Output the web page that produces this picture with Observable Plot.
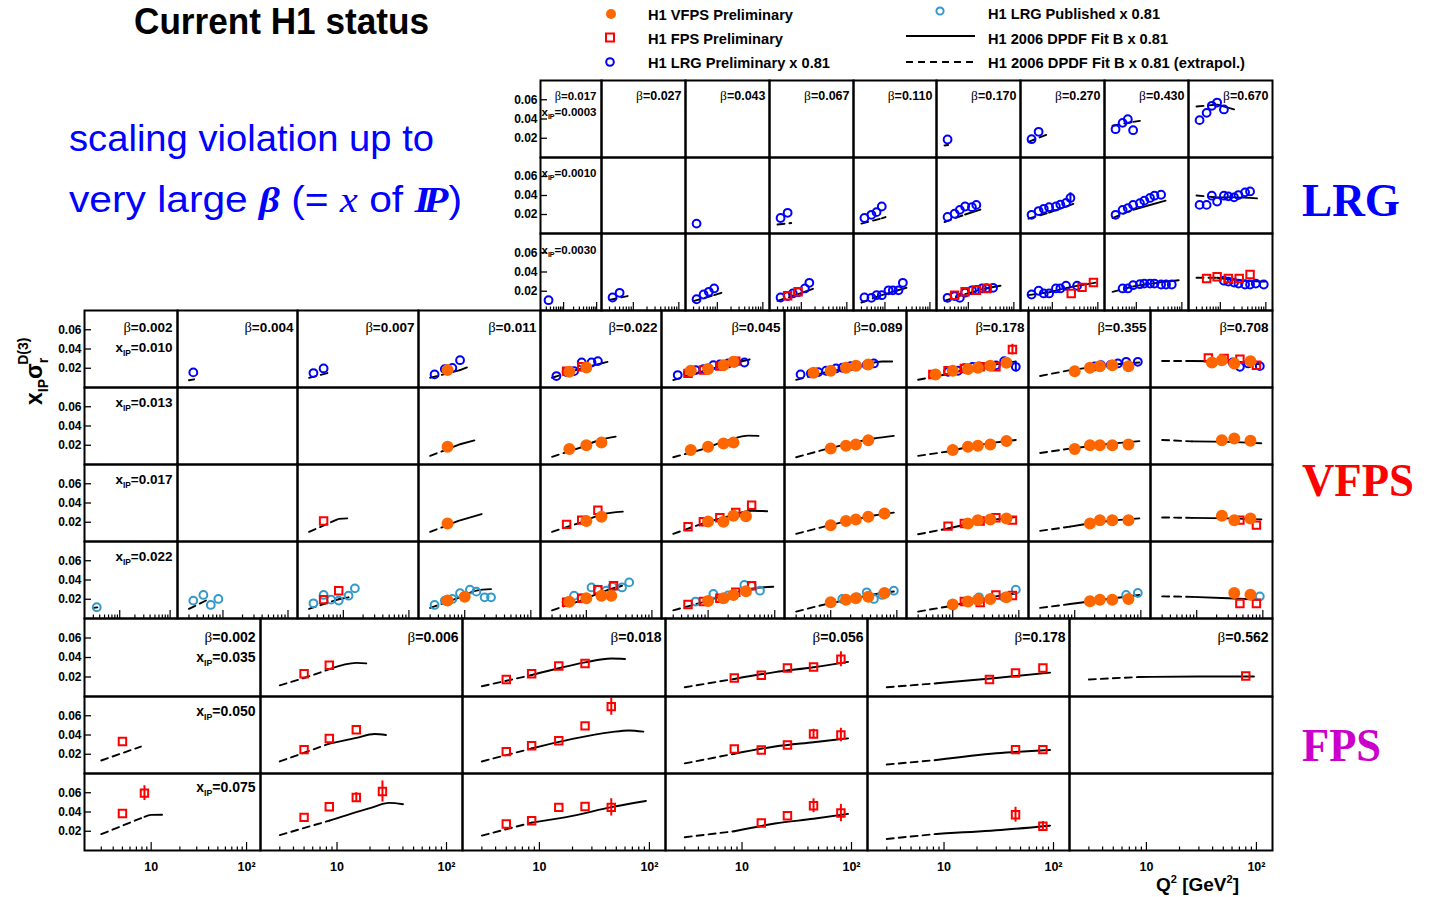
<!DOCTYPE html>
<html>
<head>
<meta charset="utf-8">
<script src="https://cdn.jsdelivr.net/npm/d3@7"></script>
<script src="https://cdn.jsdelivr.net/npm/@observablehq/plot@0.6"></script>
<style>
html,body{margin:0;padding:0;background:#fff;}
#chart{position:relative;width:1434px;height:897px;overflow:hidden;background:#fff;}
#chart svg{position:absolute;}
</style>
</head>
<body>
<div id="chart"></div>
<script>
// ================= DATA =================
// panel labels
const lrgBetas  = ["0.017","0.027","0.043","0.067","0.110","0.170","0.270","0.430","0.670"];
const lrgXips   = ["0.0003","0.0010","0.0030"];
const vfpsBetas = ["0.002","0.004","0.007","0.011","0.022","0.045","0.089","0.178","0.355","0.708"];
const vfpsXips  = ["0.010","0.013","0.017","0.022"];
const fpsBetas  = ["0.002","0.006","0.018","0.056","0.178","0.562"];
const fpsXips   = ["0.035","0.050","0.075"];
const yTickValues = [0.02, 0.04, 0.06];
const xMajorTicks = [10, 100];
const xMinorTicks = [3,4,5,6,7,8,9,20,30,40,50,60,70,80,90];
const xTickLabels = ["10", "10²"];
const fitMinQ2 = 8.5; // below this the fit is an extrapolation (dashed)

// points: [row, col, Q2, x_IP*sigma_r]
// ---- LRG block ----
const lrgBlockLRG = [
[0,5,3.5,0.0187],
[0,6,3.5,0.0190],[0,6,5,0.0267],
[0,7,3.5,0.0294],[0,7,5,0.0360],[0,7,6.5,0.0398],[0,7,8.5,0.0284],
[0,8,3.5,0.0388],[0,8,5,0.0464],[0,8,6.5,0.0537],[0,8,8.5,0.0571],[0,8,12,0.0499],
[1,2,3.5,0.0104],
[1,3,3.5,0.0163],[1,3,5,0.0218],
[1,4,3.5,0.0163],[1,4,5,0.0197],[1,4,6.5,0.0225],[1,4,8.5,0.0284],
[1,5,3.5,0.0174],[1,5,5,0.0208],[1,5,6.5,0.0249],[1,5,8.5,0.0284],[1,5,12,0.0277],[1,5,15,0.0301],
[1,6,3.5,0.0197],[1,6,5,0.0236],[1,6,6.5,0.0260],[1,6,8.5,0.0277],[1,6,12,0.0284],[1,6,15,0.0304],[1,6,20,0.0322],[1,6,25,0.0374],
[1,7,3.5,0.0197],[1,7,5,0.0249],[1,7,6.5,0.0267],[1,7,8.5,0.0301],[1,7,12,0.0319],[1,7,15,0.0346],[1,7,20,0.0374],[1,7,25,0.0398],[1,7,35,0.0408],
[1,8,3.5,0.0301],[1,8,5,0.0301],[1,8,6.5,0.0398],[1,8,8.5,0.0336],[1,8,12,0.0398],[1,8,15,0.0391],[1,8,20,0.0381],[1,8,25,0.0405],[1,8,35,0.0433],[1,8,45,0.0443],
[2,0,3.5,0.0107],
[2,1,3.5,0.0135],[2,1,5,0.0184],
[2,2,3.5,0.0117],[2,2,5,0.0166],[2,2,6.5,0.0194],[2,2,8.5,0.0229],
[2,3,3.5,0.0135],[2,3,5,0.0150],[2,3,6.5,0.0177],[2,3,8.5,0.0190],[2,3,12,0.0229],[2,3,15,0.0288],
[2,4,3.5,0.0135],[2,4,5,0.0132],[2,4,6.5,0.0159],[2,4,8.5,0.0159],[2,4,12,0.0210],[2,4,15,0.0210],[2,4,20,0.0210],[2,4,25,0.0288],
[2,5,3.5,0.0132],[2,5,5,0.0150],[2,5,6.5,0.0132],[2,5,8.5,0.0185],[2,5,12,0.0210],[2,5,15,0.0215],[2,5,20,0.0229],[2,5,25,0.0232],[2,5,35,0.0236],
[2,6,3.5,0.0166],[2,6,5,0.0205],[2,6,6.5,0.0177],[2,6,8.5,0.0177],[2,6,12,0.0229],[2,6,15,0.0229],[2,6,20,0.0257],[2,6,35,0.0257],
[2,7,5,0.0229],[2,7,6.5,0.0229],[2,7,8.5,0.0263],[2,7,12,0.0273],[2,7,15,0.0280],[2,7,20,0.0280],[2,7,25,0.0280],[2,7,35,0.0270],[2,7,45,0.0270],[2,7,60,0.0270],
[2,8,12,0.0310],[2,8,15,0.0300],[2,8,20,0.0290],[2,8,25,0.0280],[2,8,35,0.0270],[2,8,45,0.0270],[2,8,60,0.0280],[2,8,90,0.0270]
];
const lrgBlockFPS = [
[2,3,5,0.0153],[2,3,8.5,0.0194],
[2,5,5,0.0159],[2,5,8.5,0.0194],[2,5,15,0.0210],[2,5,26,0.0229],
[2,6,26,0.0177],[2,6,45,0.0240],[2,6,80,0.0291],
[2,8,5,0.0332],[2,8,8.5,0.0350],[2,8,15,0.0332],[2,8,26,0.0332],[2,8,45,0.0374]
];
// fit curves: [row, col, [[Q2, value], ...]]
const lrgBlockFits = [
[0,5,[[3,0.0125],[3.6,0.0130]]],
[0,6,[[3,0.0163],[7.7,0.0239]]],
[0,7,[[3,0.0330],[8.5,0.0370],[12,0.0380]]],
[0,8,[[3,0.0530],[8.5,0.0550],[20,0.0500]]],
[1,3,[[3,0.0095],[6,0.0110]]],
[1,4,[[3,0.0104],[8.5,0.0160],[10.3,0.0173]]],
[1,5,[[3,0.0121],[8.5,0.0200],[18.4,0.0252]]],
[1,6,[[3,0.0156],[8.5,0.0220],[29,0.0312]]],
[1,7,[[3,0.0163],[8.5,0.0250],[44,0.0346]]],
[1,8,[[3,0.0400],[8.5,0.0380],[20,0.0380],[64,0.0370]]],
[2,1,[[3,0.0110],[7.5,0.0150]]],
[2,2,[[3,0.0097],[8.5,0.0160],[12.3,0.0184]]],
[2,3,[[3,0.0100],[8.5,0.0170],[18,0.0225]]],
[2,4,[[3,0.0083],[8.5,0.0160],[30,0.0236]]],
[2,5,[[3,0.0100],[8.5,0.0170],[20,0.0220],[51,0.0257]]],
[2,6,[[3,0.0160],[8.5,0.0190],[30,0.0250],[90,0.0290]]],
[2,7,[[3,0.0194],[8.5,0.0250],[30,0.0290],[85,0.0314]]],
[2,8,[[3,0.0340],[8.5,0.0340],[20,0.0320],[95,0.0300]]]
];
// visible error bars: [row, col, Q2, error]
const lrgBlockErrLRG = [[1,6,25,0.0055]];

// ---- VFPS block ----
const vfpsBlockVFPS = [
[0,3,5.5,0.0181],
[0,4,5.5,0.0163],[0,4,10,0.0209],
[0,5,5.5,0.0174],[0,5,10,0.0191],[0,5,17,0.0232],[0,5,24,0.0267],
[0,6,5.5,0.0153],[0,6,10,0.0174],[0,6,17,0.0205],[0,6,24,0.0225],[0,6,37,0.0240],
[0,7,5.5,0.0136],[0,7,10,0.0174],[0,7,17,0.0191],[0,7,24,0.0205],[0,7,37,0.0225],[0,7,65,0.0256],
[0,8,10,0.0170],[0,8,17,0.0205],[0,8,24,0.0222],[0,8,37,0.0232],[0,8,65,0.0222],
[0,9,17,0.0260],[0,9,24,0.0284],[0,9,37,0.0250],[0,9,65,0.0274],
[1,3,5.5,0.0184],
[1,4,5.5,0.0160],[1,4,10,0.0201],[1,4,17,0.0229],
[1,5,5.5,0.0150],[1,5,10,0.0184],[1,5,17,0.0219],[1,5,24,0.0229],
[1,6,10,0.0167],[1,6,17,0.0194],[1,6,24,0.0208],[1,6,37,0.0253],
[1,7,10,0.0150],[1,7,17,0.0184],[1,7,24,0.0194],[1,7,37,0.0208],[1,7,65,0.0243],
[1,8,10,0.0160],[1,8,17,0.0201],[1,8,24,0.0201],[1,8,37,0.0201],[1,8,65,0.0208],
[1,9,24,0.0253],[1,9,37,0.0270],[1,9,65,0.0246],
[2,3,5.5,0.0188],
[2,4,10,0.0212],[2,4,17,0.0256],
[2,5,10,0.0208],[2,5,17,0.0205],[2,5,24,0.0267],[2,5,37,0.0263],
[2,6,10,0.0170],[2,6,17,0.0212],[2,6,24,0.0229],[2,6,37,0.0256],[2,6,65,0.0291],
[2,7,17,0.0188],[2,7,24,0.0222],[2,7,37,0.0229],[2,7,65,0.0239],
[2,8,17,0.0188],[2,8,24,0.0222],[2,8,37,0.0222],[2,8,65,0.0222],
[2,9,24,0.0267],[2,9,37,0.0222],[2,9,65,0.0239],
[3,3,5.5,0.0186],[3,3,10,0.0227],
[3,4,5.5,0.0175],[3,4,10,0.0210],[3,4,17,0.0237],[3,4,24,0.0237],
[3,5,10,0.0183],[3,5,17,0.0210],[3,5,24,0.0244],[3,5,37,0.0282],
[3,6,10,0.0169],[3,6,17,0.0196],[3,6,24,0.0210],[3,6,37,0.0227],[3,6,65,0.0265],
[3,7,10,0.0145],[3,7,17,0.0176],[3,7,24,0.0196],[3,7,37,0.0203],[3,7,65,0.0220],
[3,8,17,0.0179],[3,8,24,0.0196],[3,8,37,0.0196],[3,8,65,0.0203],
[3,9,37,0.0265],[3,9,65,0.0248]
];
const vfpsBlockFPS = [
[0,4,5,0.0170],[0,4,8.5,0.0215],
[0,5,5,0.0147],[0,5,8.5,0.0181],[0,5,15,0.0222],[0,5,26,0.0274],
[0,7,5,0.0136],[0,7,8.5,0.0174],[0,7,15,0.0198],[0,7,26,0.0215],[0,7,45,0.0215],[0,7,80,0.0394],
[0,9,15,0.0308],[0,9,26,0.0301],[0,9,45,0.0294],[0,9,80,0.0232],
[2,2,5,0.0212],
[2,4,5,0.0178],[2,4,8.5,0.0222],[2,4,15,0.0325],
[2,5,5,0.0153],[2,5,8.5,0.0205],[2,5,15,0.0246],[2,5,26,0.0301],[2,5,45,0.0377],
[2,7,8.5,0.0160],[2,7,15,0.0188],[2,7,26,0.0212],[2,7,45,0.0246],[2,7,80,0.0222],
[2,9,45,0.0222],[2,9,80,0.0170],
[3,2,5,0.0196],[3,2,8.5,0.0289],
[3,4,5,0.0168],[3,4,8.5,0.0210],[3,4,15,0.0299],[3,4,26,0.0341],
[3,5,5,0.0145],[3,5,8.5,0.0176],[3,5,15,0.0210],[3,5,26,0.0272],[3,5,45,0.0341],
[3,7,15,0.0176],[3,7,26,0.0165],[3,7,45,0.0245],[3,7,80,0.0238],
[3,9,45,0.0155],[3,9,80,0.0155]
];
const vfpsBlockLRG = [
[0,1,3.5,0.0157],
[0,2,3.5,0.0150],[0,2,5,0.0198],
[0,3,3.5,0.0136],[0,3,5,0.0191],[0,3,6.5,0.0204],[0,3,8.5,0.0284],
[0,4,3.5,0.0119],[0,4,5,0.0160],[0,4,6.5,0.0170],[0,4,8.5,0.0260],[0,4,12,0.0260],[0,4,15,0.0274],
[0,5,3.5,0.0129],[0,5,5,0.0150],[0,5,6.5,0.0181],[0,5,8.5,0.0190],[0,5,12,0.0232],[0,5,15,0.0240],[0,5,20,0.0250],[0,5,25,0.0260],[0,5,35,0.0260],
[0,6,3.5,0.0136],[0,6,5,0.0147],[0,6,6.5,0.0160],[0,6,8.5,0.0174],[0,6,12,0.0198],[0,6,15,0.0205],[0,6,20,0.0222],[0,6,25,0.0225],[0,6,35,0.0235],[0,6,45,0.0250],
[0,7,8.5,0.0163],[0,7,12,0.0174],[0,7,15,0.0200],[0,7,20,0.0215],[0,7,25,0.0220],[0,7,35,0.0225],[0,7,45,0.0230],[0,7,60,0.0274],[0,7,90,0.0215],
[0,8,20,0.0220],[0,8,25,0.0232],[0,8,35,0.0235],[0,8,45,0.0250],[0,8,60,0.0267],[0,8,90,0.0267],
[0,9,35,0.0260],[0,9,45,0.0215],[0,9,60,0.0250],[0,9,90,0.0222]
];
const vfpsBlockLRGPub = [
[3,0,3.5,0.0117],
[3,1,3.5,0.0186],[3,1,5,0.0245],[3,1,6.5,0.0141],[3,1,8.5,0.0203],
[3,2,3.5,0.0158],[3,2,5,0.0245],[3,2,6.5,0.0196],[3,2,8.5,0.0186],[3,2,12,0.0237],[3,2,15,0.0313],
[3,3,3.5,0.0141],[3,3,5,0.0186],[3,3,6.5,0.0203],[3,3,8.5,0.0263],[3,3,12,0.0299],[3,3,15,0.0279],[3,3,20,0.0220],[3,3,25,0.0220],
[3,4,5,0.0170],[3,4,6.5,0.0237],[3,4,8.5,0.0210],[3,4,12,0.0323],[3,4,15,0.0300],[3,4,20,0.0289],[3,4,25,0.0330],[3,4,35,0.0323],[3,4,45,0.0375],
[3,5,6.5,0.0176],[3,5,12,0.0255],[3,5,20,0.0240],[3,5,35,0.0348],[3,5,45,0.0340],[3,5,60,0.0289],
[3,6,15,0.0203],[3,6,25,0.0220],[3,6,35,0.0272],[3,6,45,0.0203],[3,6,60,0.0245],[3,6,90,0.0289],
[3,7,25,0.0220],[3,7,60,0.0220],[3,7,90,0.0300],
[3,8,60,0.0245],[3,8,90,0.0265],
[3,9,90,0.0230]
];
const vfpsBlockFits = [
[0,1,[[3,0.0075],[3.6,0.0085]]],
[0,2,[[3,0.0100],[6.5,0.0160]]],
[0,3,[[3,0.0101],[8.5,0.0180],[10.8,0.0209]]],
[0,4,[[3,0.0101],[8.5,0.0200],[21,0.0266]]],
[0,5,[[3,0.0077],[8.5,0.0170],[20,0.0240],[42,0.0291]]],
[0,6,[[3,0.0080],[8.5,0.0160],[30,0.0230],[60,0.0270],[85,0.0270]]],
[0,7,[[3,0.0080],[8.5,0.0140],[20,0.0200],[45,0.0240],[90,0.0270]]],
[0,8,[[3,0.0120],[8.5,0.0180],[30,0.0230],[95,0.0260]]],
[0,9,[[3,0.0275],[8.5,0.0275],[30,0.0270],[90,0.0240]]],
[1,3,[[3,0.0090],[8.5,0.0210],[14,0.0250]]],
[1,4,[[3,0.0080],[8.5,0.0180],[17,0.0260],[28,0.0290]]],
[1,5,[[3,0.0075],[8.5,0.0160],[20,0.0250],[40,0.0300],[57,0.0297]]],
[1,6,[[3,0.0075],[8.5,0.0160],[20,0.0220],[45,0.0270],[90,0.0297]]],
[1,7,[[3,0.0090],[8.5,0.0135],[20,0.0190],[45,0.0230],[90,0.0255]]],
[1,8,[[3,0.0120],[8.5,0.0165],[30,0.0210],[95,0.0243]]],
[1,9,[[3,0.0255],[8.5,0.0240],[30,0.0235],[95,0.0220]]],
[2,2,[[3,0.0100],[8.5,0.0235],[11.5,0.0240]]],
[2,3,[[3,0.0100],[8.5,0.0220],[18,0.0285]]],
[2,4,[[3,0.0100],[8.5,0.0200],[17,0.0280],[36,0.0310]]],
[2,5,[[3,0.0080],[8.5,0.0190],[20,0.0260],[45,0.0320],[77,0.0315]]],
[2,6,[[3,0.0080],[8.5,0.0160],[20,0.0220],[45,0.0270],[90,0.0300]]],
[2,7,[[3,0.0075],[8.5,0.0135],[20,0.0190],[45,0.0230],[90,0.0255]]],
[2,8,[[3,0.0110],[8.5,0.0155],[30,0.0210],[95,0.0240]]],
[2,9,[[3,0.0250],[8.5,0.0245],[30,0.0240],[95,0.0230]]],
[3,0,[[3,0.0110],[3.6,0.0115]]],
[3,1,[[3,0.0100],[5.8,0.0195]]],
[3,2,[[3,0.0100],[8.5,0.0200],[12,0.0220]]],
[3,3,[[3,0.0110],[8.5,0.0220],[15,0.0290],[25,0.0305]]],
[3,4,[[3,0.0085],[8.5,0.0190],[20,0.0290],[35,0.0340]]],
[3,5,[[3,0.0085],[8.5,0.0170],[20,0.0250],[45,0.0310],[95,0.0330]]],
[3,6,[[3,0.0072],[8.5,0.0150],[20,0.0200],[45,0.0250],[90,0.0280]]],
[3,7,[[3,0.0072],[8.5,0.0125],[20,0.0180],[45,0.0230],[90,0.0260]]],
[3,8,[[3,0.0110],[8.5,0.0150],[30,0.0200],[95,0.0245]]],
[3,9,[[3,0.0230],[8.5,0.0225],[30,0.0210],[95,0.0195]]]
];
const vfpsBlockErrFPS = [[0,7,80,0.0055]];
const vfpsBlockErrLRG = [[0,7,90,0.0050]];

// ---- FPS block ----
const fpsBlockFPS = [
[0,1,5,0.0234],[0,1,8.5,0.0320],
[0,2,5,0.0175],[0,2,8.5,0.0234],[0,2,15,0.0313],[0,2,26,0.0338],
[0,3,8.5,0.0189],[0,3,15,0.0217],[0,3,26,0.0292],[0,3,45,0.0303],[0,3,80,0.0382],
[0,4,26,0.0175],[0,4,45,0.0241],[0,4,80,0.0292],
[0,5,80,0.0210],
[1,0,5,0.0333],
[1,1,5,0.0248],[1,1,8.5,0.0364],[1,1,15,0.0454],
[1,2,5,0.0227],[1,2,8.5,0.0289],[1,2,15,0.0341],[1,2,26,0.0495],[1,2,45,0.0695],
[1,3,8.5,0.0255],[1,3,15,0.0245],[1,3,26,0.0296],[1,3,45,0.0410],[1,3,80,0.0400],
[1,4,45,0.0248],[1,4,80,0.0248],
[2,0,5,0.0385],[2,0,8.5,0.0596],
[2,1,5,0.0344],[2,1,8.5,0.0454],[2,1,15,0.0551],[2,1,26,0.0613],
[2,2,5,0.0275],[2,2,8.5,0.0310],[2,2,15,0.0448],[2,2,26,0.0458],[2,2,45,0.0448],
[2,3,15,0.0286],[2,3,26,0.0361],[2,3,45,0.0465],[2,3,80,0.0389],
[2,4,45,0.0372],[2,4,80,0.0251]
];
const fpsBlockFits = [
[0,1,[[3,0.0115],[5,0.0190],[8.5,0.0280],[15,0.0345],[18.5,0.0340]]],
[0,2,[[3,0.0105],[8.5,0.0220],[15,0.0290],[26,0.0350],[45,0.0390],[60,0.0385]]],
[0,3,[[3,0.0095],[8.5,0.0180],[20,0.0250],[45,0.0300],[93,0.0355]]],
[0,4,[[3,0.0095],[8.5,0.0135],[30,0.0190],[93,0.0245]]],
[0,5,[[3,0.0175],[8.5,0.0200],[30,0.0205],[95,0.0205]]],
[1,0,[[3,0.0135],[7.8,0.0280]]],
[1,1,[[3,0.0125],[8.5,0.0310],[15,0.0370],[22,0.0410],[28,0.0400]]],
[1,2,[[3,0.0125],[8.5,0.0260],[20,0.0360],[45,0.0430],[65,0.0447],[88,0.0435]]],
[1,3,[[3,0.0105],[8.5,0.0205],[20,0.0280],[45,0.0325],[93,0.0365]]],
[1,4,[[3,0.0093],[8.5,0.0140],[30,0.0210],[93,0.0244]]],
[2,0,[[3,0.0170],[8.5,0.0350],[10,0.0370],[13,0.0372]]],
[2,1,[[3,0.0160],[8.5,0.0310],[20,0.0440],[30,0.0495],[40,0.0480]]],
[2,2,[[3,0.0155],[8.5,0.0290],[20,0.0360],[45,0.0450],[93,0.0515]]],
[2,3,[[3,0.0138],[8.5,0.0200],[20,0.0280],[45,0.0330],[93,0.0380]]],
[2,4,[[3,0.0120],[8.5,0.0172],[30,0.0210],[93,0.0258]]]
];
const fpsBlockErrFPS = [
[1,2,45,0.0090],[2,2,45,0.0090],[0,3,80,0.0077],[1,3,80,0.0070],[1,3,45,0.0050],
[2,3,45,0.0072],[2,3,80,0.0090],[2,0,8.5,0.0077],[2,1,26,0.0110],[2,1,15,0.0050],
[2,4,45,0.0077],[2,4,80,0.0050]
];

// ================= LAYOUT & STYLE =================
const SANS = "'Liberation Sans', Arial, Helvetica, sans-serif";
const SERIF = "'Liberation Serif', 'Times New Roman', serif";
const COLORS = {lrg:"#0000ff", pub:"#3399cc", fps:"#ff0000", vfps:"#ff6600"};
const seriesStyle = [
  {key:"lrg",  symbol:"circle", r:3.9, fill:"none"},
  {key:"pub",  symbol:"circle", r:3.9, fill:"none"},
  {key:"fps",  symbol:"square", r:4.2, fill:"none"},
  {key:"vfps", symbol:"circle", r:5.0, fill:COLORS.vfps}
];
const blocks = [
  {cols:[540,601,685,769,853,936,1020,1104,1188,1272], rows:[80,157,233,310],
   betas:lrgBetas, xips:lrgXips, fs:12.5, fsFirst:11.5, betaDy:19, xipDy:[35.5,19.5,20],
   pts:{lrg:lrgBlockLRG, fps:lrgBlockFPS}, err:{lrg:lrgBlockErrLRG}, fits:lrgBlockFits, labels:false},
  {cols:[84,177,297,418,540,661,784,906,1028,1150,1272], rows:[310,387,464,541,618],
   betas:vfpsBetas, xips:vfpsXips, fs:13.5, fsFirst:13.5, betaDy:21.5, xipDy:[41,19,19,19],
   pts:{vfps:vfpsBlockVFPS, fps:vfpsBlockFPS, lrg:vfpsBlockLRG, pub:vfpsBlockLRGPub},
   err:{fps:vfpsBlockErrFPS, lrg:vfpsBlockErrLRG}, fits:vfpsBlockFits, labels:false},
  {cols:[84,260,462,665,867,1069,1272], rows:[618,696,773,850],
   betas:fpsBetas, xips:fpsXips, fs:14, fsFirst:14, betaDy:23.5, xipDy:[43.5,19,18.7],
   pts:{fps:fpsBlockFPS}, err:{fps:fpsBlockErrFPS}, fits:fpsBlockFits, labels:true}
];

const NS = "http://www.w3.org/2000/svg";
function richify(svg, fs) {
  svg.querySelectorAll("text").forEach(t => {
    const s = t.textContent;
    let parts = null;
    if (s.startsWith("β=")) parts = [["β", {"font-family": SERIF, "font-weight": "normal", "font-size": fs * 1.08}], [s.slice(1), {}]];
    else if (s.startsWith("x_IP=")) parts = [["x", {}], ["IP", {"font-size": fs * 0.62, "dy": fs * 0.3}], [s.slice(4), {"dy": -fs * 0.3}]];
    if (!parts) return;
    t.textContent = "";
    for (const [txt, attrs] of parts) {
      const ts = document.createElementNS(NS, "tspan");
      for (const k in attrs) ts.setAttribute(k, attrs[k]);
      ts.textContent = txt;
      t.appendChild(ts);
    }
  });
}

const chart = document.getElementById("chart");

for (const b of blocks) {
  const nR = b.rows.length - 1, nC = b.cols.length - 1;
  for (let r = 0; r < nR; r++) {
    for (let c = 0; c < nC; c++) {
      const w = b.cols[c + 1] - b.cols[c], h = b.rows[r + 1] - b.rows[r];
      const fs = c === 0 ? b.fsFirst : b.fs;
      const marks = [];
      const fit = b.fits.find(f => f[0] === r && f[1] === c);
      if (fit) {
        const pts = fit[2].map(([q, v]) => ({q, v}));
        const dashed = pts.filter(p => p.q <= fitMinQ2);
        const solid = pts.filter(p => p.q >= fitMinQ2);
        if (dashed.length > 1) marks.push(Plot.line(dashed, {x: "q", y: "v", stroke: "black", strokeWidth: 1.9, strokeDasharray: "7,5", curve: "monotone-x"}));
        if (solid.length > 1) marks.push(Plot.line(solid, {x: "q", y: "v", stroke: "black", strokeWidth: 1.9, curve: "monotone-x"}));
      }
      for (const s of seriesStyle) {
        const arr = b.pts[s.key];
        if (!arr) continue;
        const data = arr.filter(d => d[0] === r && d[1] === c);
        if (!data.length) continue;
        const errs = (b.err[s.key] || []).filter(e => e[0] === r && e[1] === c)
          .map(e => ({q: e[2], e: e[3], v: data.find(d => d[2] === e[2])[3]}));
        if (errs.length) marks.push(Plot.ruleX(errs, {x: "q", y1: d => d.v - d.e, y2: d => d.v + d.e, stroke: COLORS[s.key], strokeWidth: 2}));
        marks.push(Plot.dot(data, {x: d => d[2], y: d => d[3], r: s.r, symbol: s.symbol,
          stroke: COLORS[s.key], fill: s.fill, strokeWidth: 2}));
      }
      marks.push(Plot.frame({stroke: "black", strokeWidth: 2}));
      const dxLab = c === 0 ? -5 : -4;
      if (r === 0) marks.push(Plot.text([`β=${b.betas[c]}`], {text: d => d, frameAnchor: "top-right", textAnchor: "end",
        lineAnchor: "bottom", dx: dxLab, dy: b.betaDy, fontSize: fs, fontWeight: "bold"}));
      if (c === 0) {
        marks.push(Plot.text([`x_IP=${b.xips[r]}`], {text: d => d, frameAnchor: "top-right", textAnchor: "end",
          lineAnchor: "bottom", dx: dxLab, dy: b.xipDy[r], fontSize: fs, fontWeight: "bold"}));
        marks.push(Plot.axisY({ticks: yTickValues, anchor: "left", label: null, tickSize: -7, tickFormat: () => "", strokeWidth: 1.3}));
        marks.push(Plot.axisY({ticks: yTickValues, anchor: "left", label: null, tickSize: 0, tickPadding: 3,
          tickFormat: d => d.toFixed(2), fontSize: 12, fontWeight: "bold"}));
      }
      if (r === nR - 1) {
        marks.push(Plot.axisX({ticks: xMinorTicks, anchor: "bottom", label: null, tickSize: -3.5, tickFormat: () => "", strokeWidth: 1.2}));
        marks.push(Plot.axisX({ticks: xMajorTicks, anchor: "bottom", label: null, tickSize: -8, tickFormat: () => "", strokeWidth: 1.2}));
        if (b.labels) marks.push(Plot.axisX({ticks: xMajorTicks, anchor: "bottom", label: null, tickSize: 0, tickPadding: 12,
          tickFormat: d => xTickLabels[xMajorTicks.indexOf(d)], fontSize: 12.5, fontWeight: "bold"}));
      }
      const svg = Plot.plot({
        width: w, height: h, margin: 0,
        x: {type: "log", domain: [2, 140], axis: null, label: null},
        y: {domain: [0, 0.08], axis: null, label: null},
        style: {background: "transparent", overflow: "visible", fontFamily: SANS, color: "black"},
        marks
      });
      svg.style.left = b.cols[c] + "px";
      svg.style.top = b.rows[r] + "px";
      richify(svg, fs);
      chart.appendChild(svg);
    }
  }
}

// ================= ANNOTATIONS (title, legend, side labels, axis titles) =================
const ov = d3.create("svg").attr("width", 1434).attr("height", 897)
  .style("left", "0px").style("top", "0px").style("overflow", "visible");

ov.append("text").attr("x", 134).attr("y", 33.5).attr("font-family", SANS).attr("font-weight", "bold")
  .attr("font-size", 37.5).attr("textLength", 295).attr("lengthAdjust", "spacingAndGlyphs").text("Current H1 status");

ov.append("text").attr("x", 69).attr("y", 151).attr("font-family", SANS).attr("font-size", 36)
  .attr("fill", "#0000ff").attr("textLength", 365).attr("lengthAdjust", "spacingAndGlyphs").text("scaling violation up to");
{
  const t = ov.append("text").attr("x", 69).attr("y", 212).attr("font-family", SANS).attr("font-size", 36)
    .attr("fill", "#0000ff").attr("textLength", 393).attr("lengthAdjust", "spacingAndGlyphs");
  t.append("tspan").text("very large ");
  t.append("tspan").attr("font-family", SERIF).attr("font-style", "italic").attr("font-weight", "bold").text("β");
  t.append("tspan").text(" (= ");
  t.append("tspan").attr("font-family", SERIF).attr("font-style", "italic").text("x");
  t.append("tspan").text(" of ");
  t.append("tspan").attr("font-family", SERIF).attr("font-style", "italic").attr("font-weight", "bold")
    .attr("letter-spacing", -6).text("IP");
  t.append("tspan").attr("dx", 6).text(")");
}

// legend
const legFont = (sel) => sel.attr("font-family", SANS).attr("font-weight", "bold").attr("font-size", 15)
  .attr("lengthAdjust", "spacingAndGlyphs");
ov.append("circle").attr("cx", 611).attr("cy", 14).attr("r", 5).attr("fill", COLORS.vfps);
legFont(ov.append("text").attr("x", 648).attr("y", 19.5).attr("textLength", 145)).text("H1 VFPS Preliminary");
ov.append("rect").attr("x", 606).attr("y", 33.5).attr("width", 8).attr("height", 8).attr("fill", "none").attr("stroke", COLORS.fps).attr("stroke-width", 2);
legFont(ov.append("text").attr("x", 648).attr("y", 43.5).attr("textLength", 135)).text("H1 FPS Preliminary");
ov.append("circle").attr("cx", 610).attr("cy", 62).attr("r", 3.8).attr("fill", "none").attr("stroke", COLORS.lrg).attr("stroke-width", 2);
legFont(ov.append("text").attr("x", 648).attr("y", 67.5).attr("textLength", 182)).text("H1 LRG Preliminary x 0.81");
ov.append("circle").attr("cx", 940).attr("cy", 11).attr("r", 3.6).attr("fill", "none").attr("stroke", COLORS.pub).attr("stroke-width", 2);
legFont(ov.append("text").attr("x", 988).attr("y", 19).attr("textLength", 172)).text("H1 LRG Published x 0.81");
ov.append("line").attr("x1", 906).attr("x2", 975).attr("y1", 36).attr("y2", 36).attr("stroke", "black").attr("stroke-width", 2);
legFont(ov.append("text").attr("x", 988).attr("y", 43.5).attr("textLength", 180)).text("H1 2006 DPDF Fit B x 0.81");
ov.append("line").attr("x1", 906).attr("x2", 975).attr("y1", 62).attr("y2", 62).attr("stroke", "black").attr("stroke-width", 2).attr("stroke-dasharray", "7,5");
legFont(ov.append("text").attr("x", 988).attr("y", 67.5).attr("textLength", 257)).text("H1 2006 DPDF Fit B x 0.81 (extrapol.)");

// side labels
const side = [["LRG", 216, "#0000ff", 98], ["VFPS", 496, "#ff0000", 112], ["FPS", 761, "#cc00cc", 79]];
for (const [txt, y, col, len] of side) {
  ov.append("text").attr("x", 1302).attr("y", y).attr("font-family", SERIF).attr("font-weight", "bold")
    .attr("font-size", 46).attr("fill", col).attr("textLength", len).attr("lengthAdjust", "spacingAndGlyphs").text(txt);
}

// y axis title
{
  const t = ov.append("text").attr("transform", "translate(42,405) rotate(-90)").attr("font-family", SANS)
    .attr("font-weight", "bold").attr("font-size", 23);
  t.append("tspan").text("x");
  t.append("tspan").attr("font-size", 14).attr("dy", 6).text("IP");
  t.append("tspan").attr("dy", -6).text("σ");
  t.append("tspan").attr("font-size", 14).attr("dy", 6).text("r");
  t.append("tspan").attr("font-size", 14).attr("dy", -20).attr("dx", -7).text("D(3)");
}
// x axis title
{
  const t = ov.append("text").attr("x", 1156).attr("y", 891).attr("font-family", SANS)
    .attr("font-weight", "bold").attr("font-size", 19);
  t.append("tspan").text("Q");
  t.append("tspan").attr("font-size", 11).attr("dy", -8).text("2");
  t.append("tspan").attr("dy", 8).text(" [GeV");
  t.append("tspan").attr("font-size", 11).attr("dy", -8).text("2");
  t.append("tspan").attr("dy", 8).text("]");
}
chart.appendChild(ov.node());
</script>
</body>
</html>
